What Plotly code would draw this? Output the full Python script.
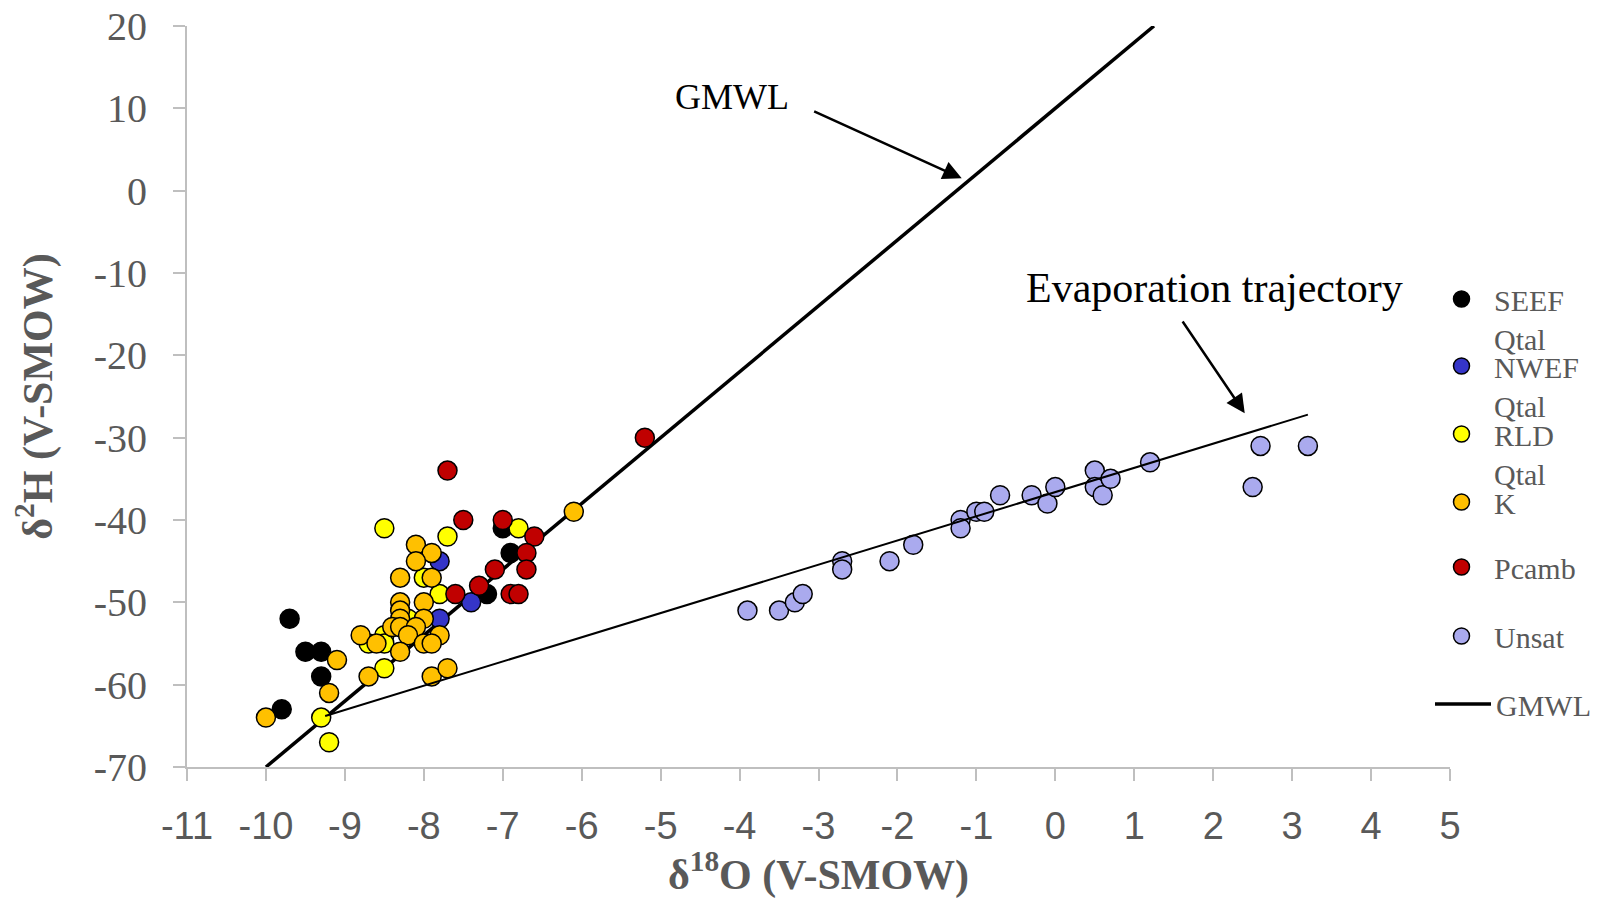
import plotly.graph_objects as go

# ---------------- data ----------------
SEEF_x = [-9.7, -9.5, -9.3, -9.3, -9.8, -7.0, -6.9, -7.2]
SEEF_y = [-52, -56, -56, -59, -63, -41, -44, -49]

NWEF_x = [-7.8, -7.8, -7.4]
NWEF_y = [-45, -52, -50]

RLD_x = [-8.5, -7.7, -6.8, -8.0, -7.8, -8.2, -8.5, -8.7, -8.5, -8.5, -9.3, -9.2]
RLD_y = [-41, -42, -41, -47, -49, -52, -54, -55, -55, -58, -64, -67]

K_x = [-6.1, -8.1, -7.9, -8.1, -8.3, -7.9, -8.3, -8.0, -8.3, -8.3, -8.0, -8.4, -8.3, -8.1,
       -8.8, -8.2, -7.8, -8.6, -8.0, -7.9, -8.3, -9.1, -8.7, -7.9, -7.7, -9.2, -10.0]
K_y = [-39, -43, -44, -45, -47, -47, -50, -50, -51, -52, -52, -53, -53, -53,
       -54, -54, -54, -55, -55, -55, -56, -57, -59, -59, -58, -61, -64]

Pcamb_x = [-7.7, -7.5, -7.0, -6.6, -6.7, -6.7, -7.1, -7.3, -7.6, -6.9, -6.8, -5.2]
Pcamb_y = [-34, -40, -40, -42, -44, -46, -46, -48, -49, -49, -49, -30]

Unsat_x = [-3.9, -3.5, -3.3, -3.2, -2.7, -2.7, -2.1, -1.8, -1.2, -1.2, -1.0, -0.9,
           -0.7, -0.3, -0.1, 0.0, 0.5, 0.5, 0.6, 0.7, 1.2, 2.5, 2.6, 3.2]
Unsat_y = [-51, -51, -50, -49, -45, -46, -45, -43, -40, -41, -39, -39,
           -37, -37, -38, -36, -34, -36, -37, -35, -33, -36, -31, -31]

GMWL_x = [-10.0, 1.25]
GMWL_y = [-70.0, 20.0]

EVAP_x = [-9.25, 3.2]
EVAP_y = [-63.8, -27.2]

x_ticks = list(range(-11, 6))
y_ticks = list(range(-70, 21, 10))

series = [
    ("SEEF<br>Qtal", SEEF_x, SEEF_y, "#000000"),
    ("NWEF<br>Qtal", NWEF_x, NWEF_y, "#3535C8"),
    ("RLD<br>Qtal", RLD_x, RLD_y, "#FFFF00"),
    ("K", K_x, K_y, "#FFC000"),
    ("Pcamb", Pcamb_x, Pcamb_y, "#C00000"),
    ("Unsat", Unsat_x, Unsat_y, "#AAAAEE"),
]

# ---------------- layout geometry ----------------
OFF = 8  # page body margin
W, H = 1604 - 2 * OFF, 907 - 2 * OFF
ML, MT = 187 - OFF, 26 - OFF
PW, PH = 1263, 741
MR, MB = W - ML - PW, H - MT - PH

GREY = "#595959"
AXC = "#BFBFBF"
SERIF = "Liberation Serif, Times New Roman, serif"
SANS = "Liberation Sans, Arial, sans-serif"

leg_marker_y = [297, 364, 432, 500, 565, 634, 702]   # page px
leg_marker_x = 1462
LEG_FS = 30


def py2paper(py):
    return (MT + PH - (py - OFF)) / PH


def px2paper(px):
    return ((px - OFF) - ML) / PW


fig = go.Figure()

fig.add_trace(go.Scatter(
    x=GMWL_x, y=GMWL_y, mode="lines", name="GMWL",
    line=dict(color="#000000", width=3.5), legend="legend7", hoverinfo="skip"))

for i, (name, xs, ys, col) in enumerate(series):
    fig.add_trace(go.Scatter(
        x=xs, y=ys, mode="markers", name=name,
        marker=dict(size=19, color=col, line=dict(color="#000000", width=1.5)),
        legend="legend" if i == 0 else f"legend{i + 1}"))

fig.add_trace(go.Scatter(
    x=EVAP_x, y=EVAP_y, mode="lines", showlegend=False,
    line=dict(color="#000000", width=2), hoverinfo="skip"))

legends = {}
for i, my in enumerate(leg_marker_y):
    key = "legend" if i == 0 else f"legend{i + 1}"
    if i == 6:
        iw, dx = 56, -32
    else:
        iw, dx = 55, -33
    legends[key] = dict(
        x=px2paper(leg_marker_x + dx), xanchor="left",
        y=py2paper(my - 24), yanchor="top",
        font=dict(family=SERIF, size=LEG_FS, color=GREY),
        bgcolor="rgba(0,0,0,0)", borderwidth=0, valign="top",
        itemwidth=iw,
        itemclick=False, itemdoubleclick=False)

common_axis = dict(showgrid=False, zeroline=False)

fig.update_layout(
    width=W, height=H,
    margin=dict(l=ML, r=MR, t=MT, b=MB, autoexpand=False),
    paper_bgcolor="white", plot_bgcolor="white",
    showlegend=True,
    xaxis=dict(range=[-11, 5], tickvals=x_ticks, ticktext=[str(v) for v in x_ticks],
               ticks="outside", ticklen=12, tickwidth=1.5, tickcolor=AXC,
               showline=True, linecolor=AXC, linewidth=2,
               tickfont=dict(family=SANS, size=38, color=GREY),
               ticklabelstandoff=12, ticklabeloverflow="allow",
               title=dict(text="<b>δ<sup>18</sup>O (V-SMOW)</b>",
                          font=dict(family=SERIF, size=42, color=GREY), standoff=22),
               automargin=False, **common_axis),
    yaxis=dict(range=[-70, 20], tickvals=y_ticks, ticktext=[str(v) for v in y_ticks],
               ticks="outside", ticklen=12, tickwidth=1.5, tickcolor=AXC,
               showline=True, linecolor=AXC, linewidth=2,
               tickfont=dict(family=SERIF, size=40, color=GREY),
               ticklabelstandoff=18, ticklabeloverflow="allow",
               title=dict(text="<b>δ<sup>2</sup>H (V-SMOW)</b>",
                          font=dict(family=SERIF, size=42, color=GREY), standoff=43),
               automargin=False, **common_axis),
    xaxis2=dict(overlaying="x", anchor="y", side="bottom", range=[-11, 5],
                tickvals=x_ticks, ticks="inside", ticklen=12, tickwidth=1.5,
                tickcolor=AXC, showticklabels=False, showline=False, **common_axis),
    yaxis2=dict(overlaying="y", anchor="x", side="left", range=[-70, 20],
                tickvals=y_ticks, ticks="inside", ticklen=12, tickwidth=1.5,
                tickcolor=AXC, showticklabels=False, showline=False, **common_axis),
    **legends,
)

fig.add_annotation(x=-4.09, y=11.41, xref="x", yref="y", text="GMWL", showarrow=False,
                   font=dict(family=SERIF, size=36, color="#000000"))
fig.add_annotation(x=2.02, y=-11.82, xref="x", yref="y", text="Evaporation trajectory",
                   showarrow=False, font=dict(family=SERIF, size=42, color="#000000"))
fig.add_annotation(x=-1.186, y=1.5, ax=-3.074, ay=9.71, xref="x", yref="y",
                   axref="x", ayref="y", text="", showarrow=True,
                   arrowhead=2, arrowsize=1.5, arrowwidth=2.5, arrowcolor="#000000")
fig.add_annotation(x=2.40, y=-27.04, ax=1.60, ay=-15.71, xref="x", yref="y",
                   axref="x", ayref="y", text="", showarrow=True,
                   arrowhead=2, arrowsize=1.5, arrowwidth=2.5, arrowcolor="#000000")

fig.write_html("out.html")
